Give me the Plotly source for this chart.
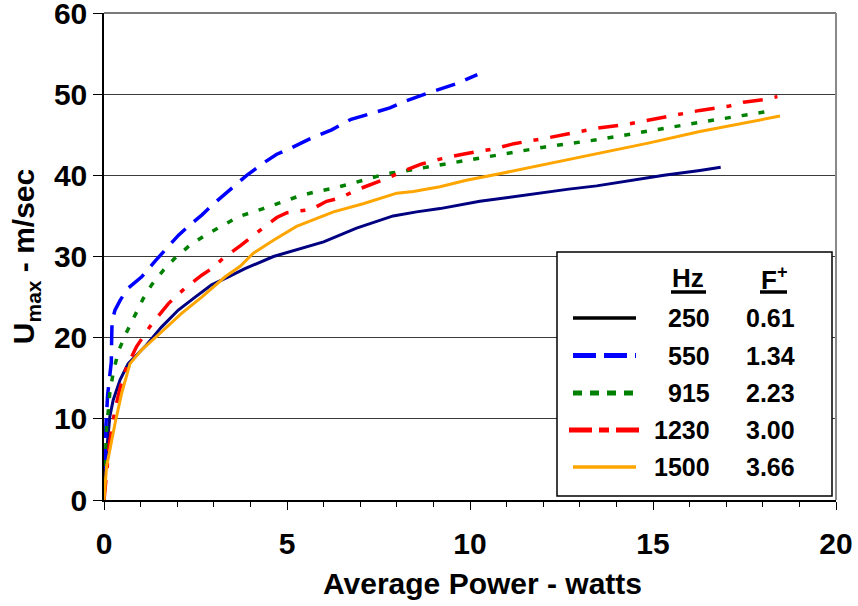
import plotly.graph_objects as go

# ---------------- data ----------------
x_250 = [0, 0.03, 0.1, 0.16, 0.25, 0.44, 0.66, 1.12, 1.57, 2.03, 2.49, 2.94, 3.4, 3.85, 4.63, 5.17,
         6.0, 6.9, 7.36, 7.9, 8.54, 9.18, 10.27, 11.5, 12.7, 13.46, 14.4, 15.3, 16.28, 16.85]
y_250 = [0, 3.3, 7.4, 10.3, 12.3, 14.8, 16.8, 18.9, 21.3, 23.4, 25.0, 26.5, 27.5, 28.5, 30.0, 30.7,
         31.8, 33.5, 34.2, 35.0, 35.5, 35.9, 36.8, 37.6, 38.3, 38.7, 39.4, 40.0, 40.6, 41.0]

x_550 = [0, 0.02, 0.05, 0.1, 0.15, 0.2, 0.21, 0.22, 0.3, 0.44, 0.66, 1.03, 1.39, 1.71, 2.03, 2.35,
         2.67, 3.0, 3.5, 3.9, 4.35, 4.72, 5.08, 5.58, 6.22, 6.75, 7.81, 8.27, 8.77, 9.09, 9.63, 10.2]
y_550 = [0, 5, 9, 13, 15, 17, 20, 22, 23.4, 24.6, 26.1, 27.5, 29.4, 31.0, 32.6, 33.9,
         35.1, 36.5, 38.5, 40.0, 41.5, 42.6, 43.3, 44.4, 45.6, 46.9, 48.3, 49.2, 50.0, 50.5, 51.3, 52.4]

x_915 = [0, 0.02, 0.05, 0.07, 0.12, 0.16, 0.25, 0.39, 0.62, 0.85, 1.07, 1.3, 1.62, 1.94, 2.35, 2.76,
         3.21, 3.67, 4.35, 4.8, 5.3, 5.8, 6.27, 6.77, 7.2, 7.72, 8.17, 8.7, 9.18, 9.67, 11.1, 12.05,
         13.5, 14.5, 15.5, 16.37, 16.8, 17.3, 17.8, 18.3]
y_915 = [0, 2.5, 6.8, 9.0, 11.1, 13.3, 15.6, 18.3, 20.7, 22.8, 24.8, 26.5, 28.3, 29.8, 31.4, 32.6,
         33.7, 34.9, 35.9, 36.6, 37.4, 38.0, 38.4, 39.0, 39.5, 40.2, 40.5, 40.9, 41.3, 41.6, 42.7, 43.5,
         44.4, 45.2, 45.9, 46.6, 46.9, 47.3, 47.7, 48.0]

x_1230 = [0, 0.05, 0.15, 0.3, 0.45, 0.62, 0.89, 1.26, 1.76, 2.21, 2.67, 2.94, 3.26, 3.72, 4.08, 4.4,
          4.72, 5.0, 5.3, 5.67, 6.08, 6.45, 6.9, 7.36, 7.72, 8.17, 8.68, 9.18, 9.8, 10.7, 11.2, 12.1,
          12.55, 13.46, 14.3, 15.2, 16.28, 17.05, 17.47, 18.0, 18.4]
y_1230 = [0, 2.5, 7.0, 11.1, 14.0, 16.4, 18.9, 21.4, 24.2, 26.1, 27.7, 28.5, 29.8, 31.3, 32.5, 33.7,
          34.8, 35.4, 35.6, 35.8, 36.8, 37.2, 38.2, 39.0, 39.6, 40.5, 41.4, 42.0, 42.6, 43.3, 43.9, 44.6,
          45.0, 45.8, 46.3, 47.1, 48.0, 48.5, 49.0, 49.3, 49.7]

x_1500 = [0, 0.07, 0.3, 0.48, 0.71, 1.03, 1.57, 2.12, 2.67, 3.31, 3.72, 4.08, 4.63, 5.26, 6.27, 7.08,
          8.0, 8.45, 9.18, 9.9, 10.6, 12.2, 13.46, 14.9, 16.28, 17.4, 18.47]
y_1500 = [0, 4.1, 9.4, 13.1, 16.8, 18.5, 20.7, 23.0, 25.0, 27.5, 28.8, 30.4, 32.0, 33.7, 35.5, 36.5,
          37.8, 38.0, 38.6, 39.4, 40.0, 41.5, 42.7, 44.0, 45.4, 46.4, 47.3]

hz_labels = ["250", "550", "915", "1230", "1500"]
fplus_labels = ["0.61", "1.34", "2.23", "3.00", "3.66"]
x_ticks = [0, 5, 10, 15, 20]
y_ticks = [0, 10, 20, 30, 40, 50, 60]
x_title = "Average Power - watts"
y_title = "U<sub>max</sub> - m/sec"

# ---------------- styles ----------------
FONT = "Liberation Sans, Arial, sans-serif"
series = [
    (x_250, y_250, dict(color="#000080", width=3, dash="solid"), dict(color="#000000", width=3.5, dash="solid")),
    (x_550, y_550, dict(color="#0000FF", width=3.5, dash="20px,11px"), dict(color="#0000FF", width=5, dash="23px,8px")),
    (x_915, y_915, dict(color="#008000", width=3.5, dash="6px,11px"), dict(color="#008000", width=5, dash="9px,8px")),
    (x_1230, y_1230, dict(color="#FF0000", width=3.5, dash="20px,12px,5px,12px"), dict(color="#FF0000", width=5, dash="23px,7px,10px,7px")),
    (x_1500, y_1500, dict(color="#FFA500", width=3, dash="solid"), dict(color="#FFA500", width=3.5, dash="solid")),
]

W, H = 858, 606
L, R, T, B = 104, 22, 13, 106
PW, PH = W - L - R, H - T - B


def px(xp):
    return (xp - L) / PW


def py(yp):
    return (H - B - yp) / PH


fig = go.Figure()
for (xs, ys, line, _), name in zip(series, hz_labels):
    fig.add_trace(go.Scatter(x=xs, y=ys, mode="lines", line=line, name=name, showlegend=False,
                             hoverinfo="x+y+name"))

shapes = []
annotations = []
# top and right border of plot area
shapes.append(dict(type="line", xref="paper", yref="paper", x0=0, x1=1, y0=1, y1=1,
                   line=dict(color="#7a7a7a", width=2), layer="above"))
shapes.append(dict(type="line", xref="paper", yref="paper", x0=1, x1=1, y0=0, y1=1,
                   line=dict(color="#8a8a8a", width=2), layer="above"))
# legend box
shapes.append(dict(type="rect", xref="paper", yref="paper", x0=px(557), x1=px(832), y0=py(496), y1=py(252),
                   fillcolor="white", line=dict(color="black", width=1.5), layer="above"))
# headers
HFONT = dict(family=FONT, size=26, color="black", weight="bold")
annotations.append(dict(xref="paper", yref="paper", x=px(688), y=py(278), text="Hz", showarrow=False,
                        xanchor="center", yanchor="middle", font=HFONT))
annotations.append(dict(xref="paper", yref="paper", x=px(774), y=py(278), text="F<sup>+</sup>", showarrow=False,
                        xanchor="center", yanchor="middle", font=HFONT))
shapes.append(dict(type="line", xref="paper", yref="paper", x0=px(671), x1=px(706), y0=py(292), y1=py(292),
                   line=dict(color="black", width=3.5), layer="above"))
shapes.append(dict(type="line", xref="paper", yref="paper", x0=px(760), x1=px(787), y0=py(292), y1=py(292),
                   line=dict(color="black", width=3.5), layer="above"))

row_y = [318, 355.5, 393, 430, 467]
RFONT = dict(family=FONT, size=25, color="black", weight="bold")
for (_, _, _, leg), hz, fp, ry in zip(series, hz_labels, fplus_labels, row_y):
    x0, x1 = (569, 640) if hz == "1230" else (573, 636)
    shapes.append(dict(type="line", xref="paper", yref="paper", x0=px(x0), x1=px(x1), y0=py(ry), y1=py(ry),
                       line=leg, layer="above"))
    annotations.append(dict(xref="paper", yref="paper", x=px(712), y=py(ry), text=hz, showarrow=False,
                            xanchor="right", yanchor="middle", font=RFONT))
    annotations.append(dict(xref="paper", yref="paper", x=px(770), y=py(ry), text=fp, showarrow=False,
                            xanchor="center", yanchor="middle", font=RFONT))

TICKFONT = dict(family=FONT, size=30, color="black", weight="bold")
TITLEFONT = dict(family=FONT, size=30, color="black", weight="bold")
# x-axis title (slightly right of the plot centre, as in the reference)
annotations.append(dict(xref="paper", yref="paper", x=px(482), y=py(583), text=x_title, showarrow=False,
                        xanchor="center", yanchor="middle", font=TITLEFONT))

fig.update_layout(
    width=W, height=H,
    margin=dict(l=L, r=R, t=T, b=B, pad=0, autoexpand=False),
    paper_bgcolor="white", plot_bgcolor="white",
    showlegend=False,
    shapes=shapes, annotations=annotations,
    xaxis=dict(range=[0, 20], tickvals=x_ticks, ticktext=[str(v) for v in x_ticks],
               ticks="outside", ticklen=8, tickwidth=1, tickcolor="black",
               minor=dict(dtick=1, ticks="outside", ticklen=5, tickcolor="black", showgrid=False),
               showline=True, linecolor="black", linewidth=1.5, showgrid=False, zeroline=False,
               tickfont=TICKFONT, ticklabelstandoff=8, ticklabeloverflow="allow", automargin=False),
    yaxis=dict(range=[0, 60], tickvals=y_ticks, ticktext=[str(v) for v in y_ticks],
               ticks="outside", ticklen=9, tickwidth=1, tickcolor="black",
               showline=True, linecolor="black", linewidth=1.5,
               showgrid=True, gridcolor="#3a3a3a", gridwidth=1.2, zeroline=False,
               tickfont=TICKFONT, ticklabeloverflow="allow", automargin=False,
               title=dict(text=y_title, standoff=10, font=TITLEFONT)),
)

fig.write_html("out.html")
